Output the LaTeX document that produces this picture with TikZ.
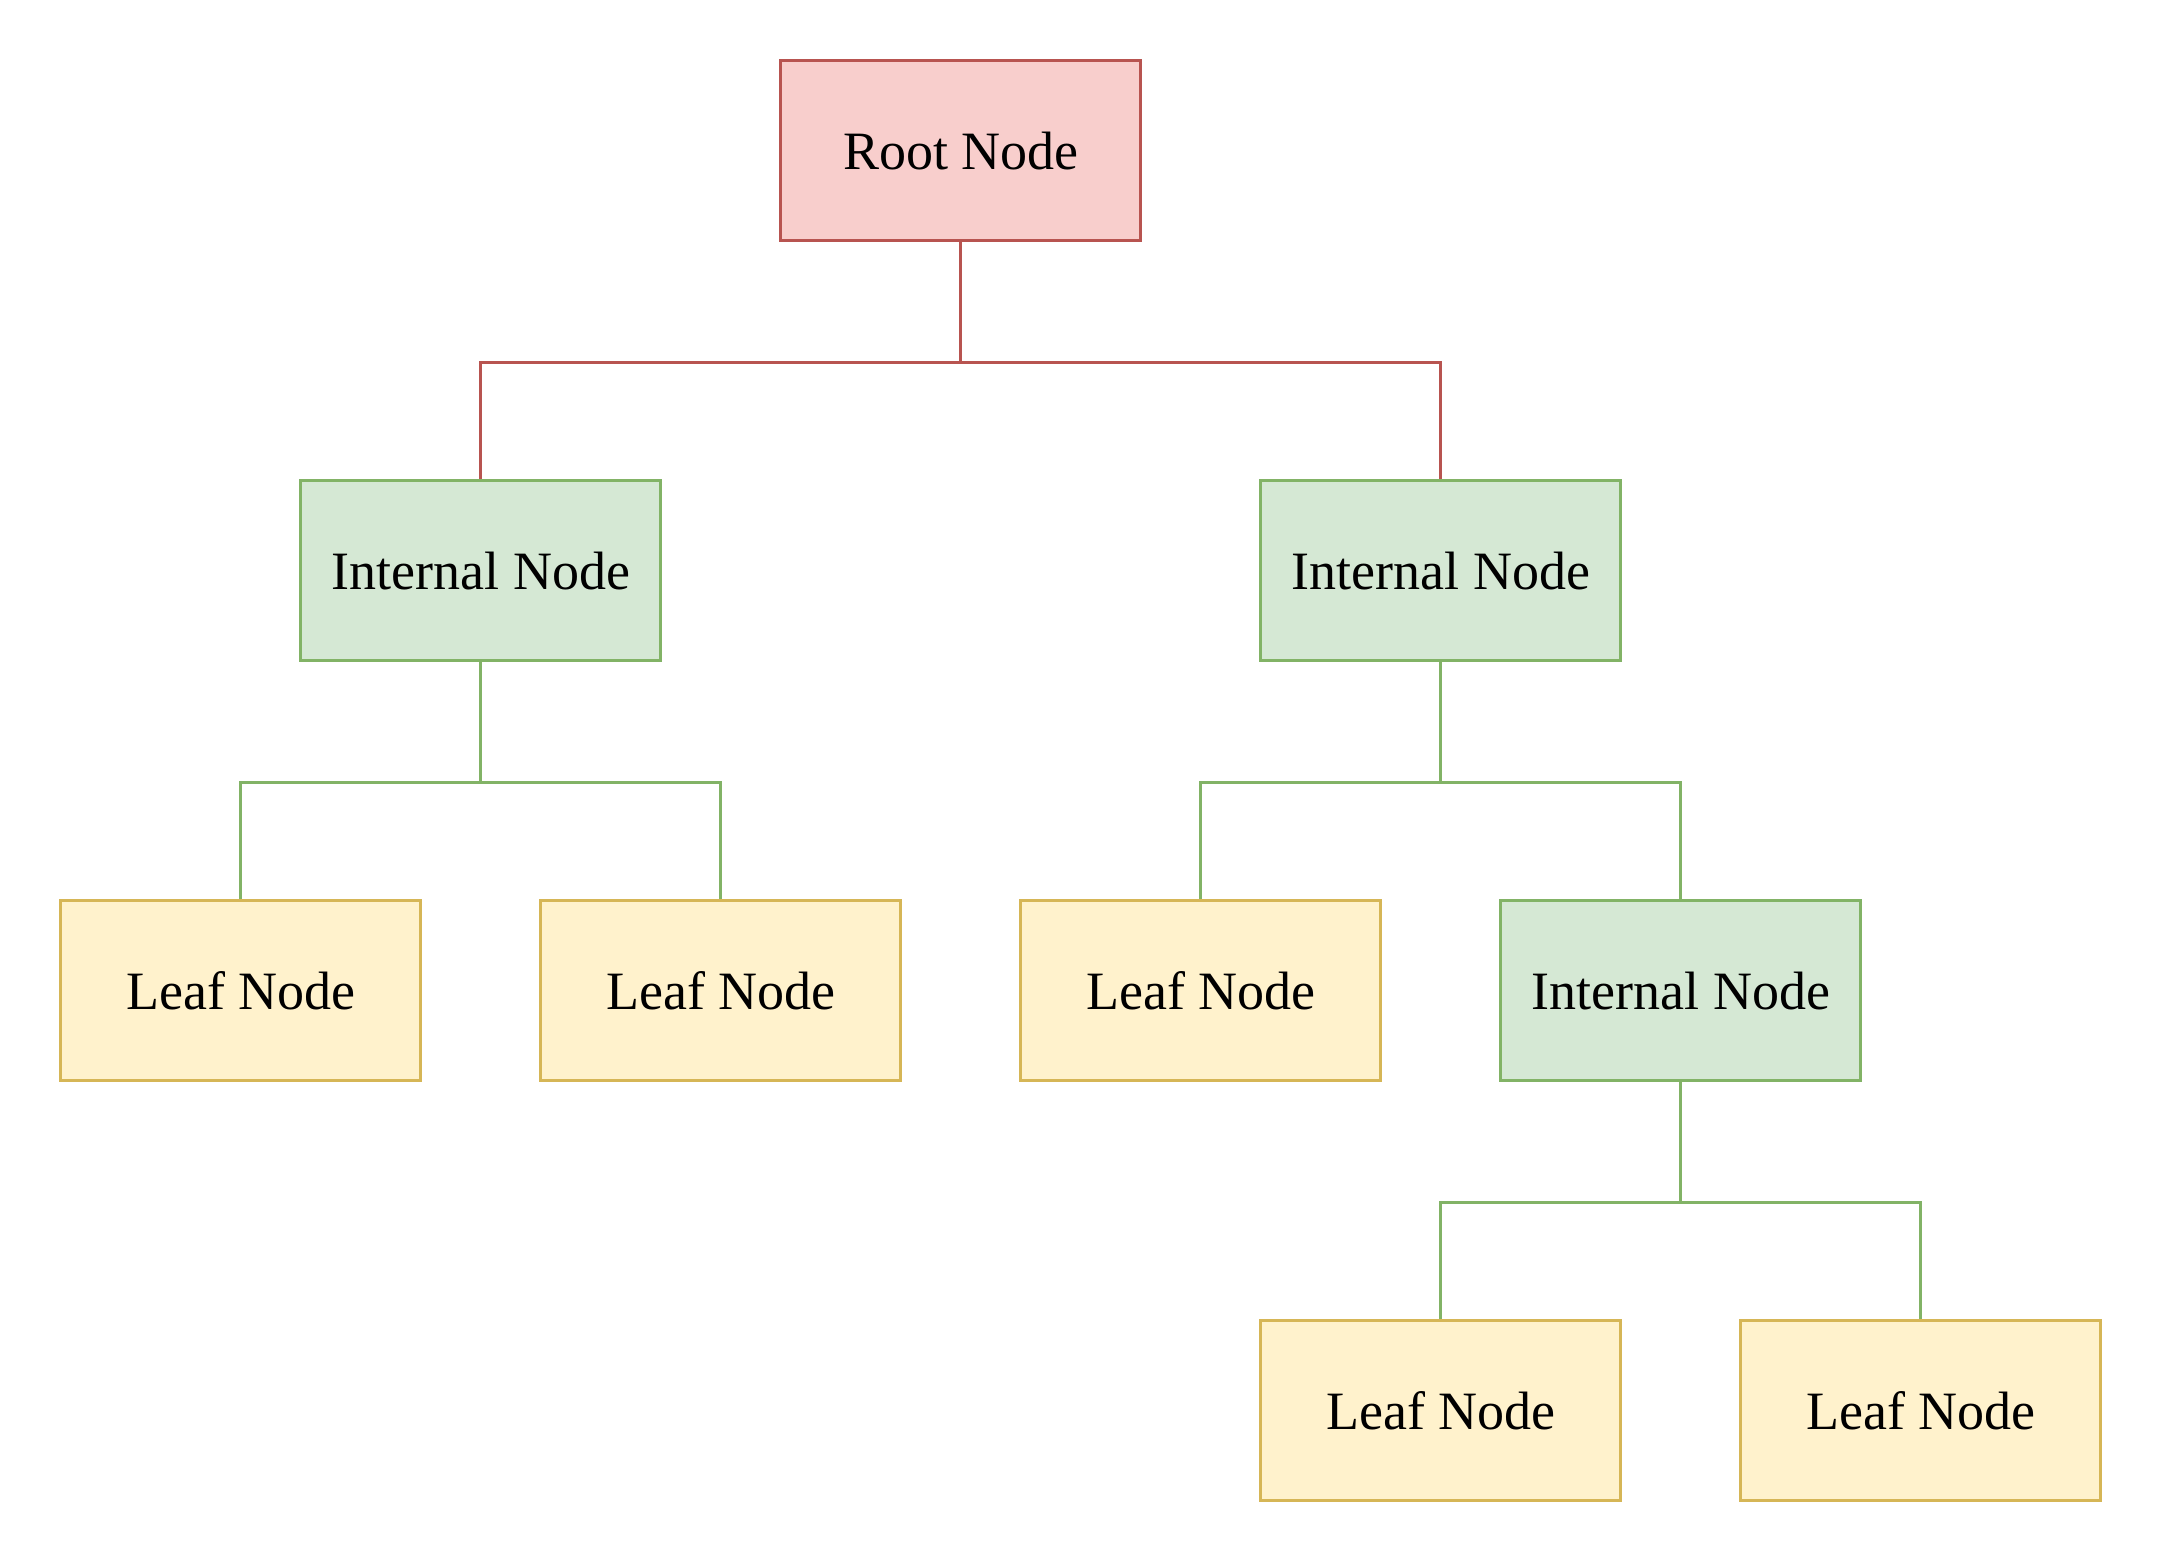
\documentclass[tikz,border=0pt]{standalone}
\usepackage{fontspec}
\setmainfont{Liberation Serif}
\usetikzlibrary{calc}
\definecolor{rootfill}{HTML}{F8CECC}
\definecolor{rootline}{HTML}{B85450}
\definecolor{innerfill}{HTML}{D5E8D4}
\definecolor{innerline}{HTML}{82B366}
\definecolor{leaffill}{HTML}{FFF2CC}
\definecolor{leafline}{HTML}{D6B656}
\newcommand{\LevelGap}{140}
\newcommand{\ElbowDrop}{40pt}

\tikzset{
  treebox/.style={rectangle, minimum width=120pt, minimum height=60pt,
    inner sep=0pt, line width=1pt, font=\fontsize{18}{21.6}\selectfont},
  rootbox/.style={treebox, draw=rootline, fill=rootfill},
  innerbox/.style={treebox, draw=innerline, fill=innerfill},
  leafbox/.style={treebox, draw=leafline, fill=leaffill},
  elbow/.style={line width=1pt}
}

\begin{document}
\begin{tikzpicture}[x=1pt,y=1pt]
  % page frame with the same margins as the reference
  \useasboundingbox (0,0) rectangle (721,-521);

  % level 0
  \node[rootbox] (root) at (320.3,-50.3) {Root Node};

  % level 1
  \node[innerbox] (innerL) at (160.3,-50.3-\LevelGap) {Internal Node};
  \node[innerbox] (innerR) at (480.3,-50.3-\LevelGap) {Internal Node};

  % level 2
  \node[leafbox]  (leafA)  at (80.3,-50.3-2*\LevelGap)  {Leaf Node};
  \node[leafbox]  (leafB)  at (240.3,-50.3-2*\LevelGap) {Leaf Node};
  \node[leafbox]  (leafC)  at (400.3,-50.3-2*\LevelGap) {Leaf Node};
  \node[innerbox] (innerD) at (560.3,-50.3-2*\LevelGap) {Internal Node};

  % level 3
  \node[leafbox] (leafE) at (480.3,-50.3-3*\LevelGap) {Leaf Node};
  \node[leafbox] (leafF) at (640.3,-50.3-3*\LevelGap) {Leaf Node};

  % connectors from the root
  \draw[elbow, rootline] (root.south) -- ++(0,-\ElbowDrop) -| (innerL.north);
  \draw[elbow, rootline] (root.south) -- ++(0,-\ElbowDrop) -| (innerR.north);

  % connectors from the internal nodes
  \foreach \parent/\child in {innerL/leafA, innerL/leafB, innerR/leafC,
      innerR/innerD, innerD/leafE, innerD/leafF}
    \draw[elbow, innerline] (\parent.south) -- ++(0,-\ElbowDrop) -| (\child.north);
\end{tikzpicture}
\end{document}
